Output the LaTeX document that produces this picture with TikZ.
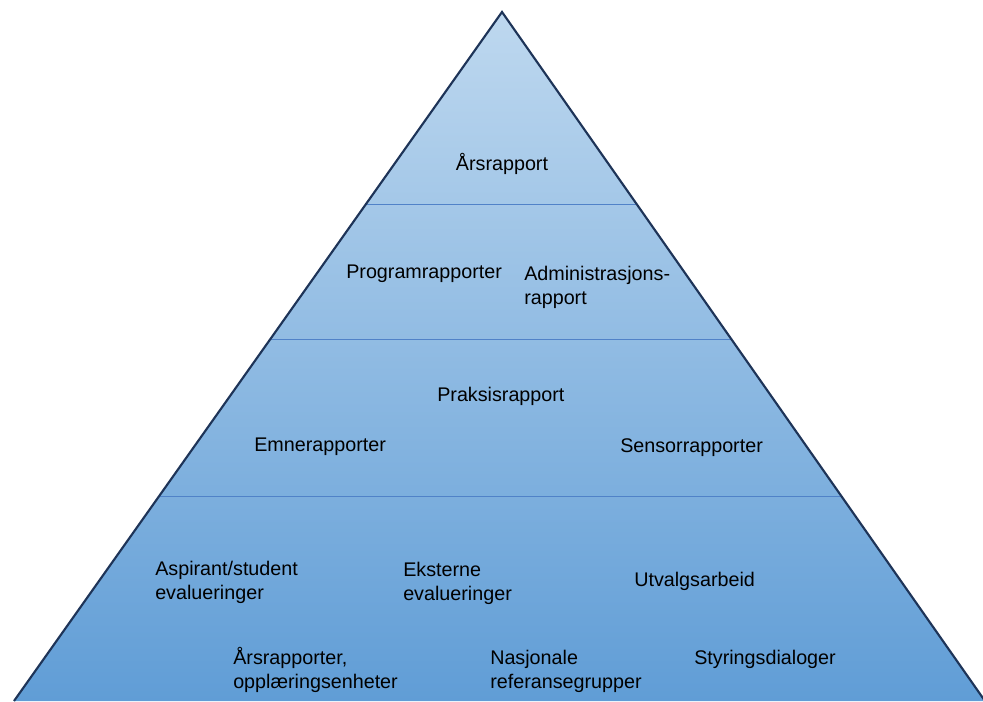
\documentclass[tikz,border=0pt]{standalone}
\usepackage{fontspec}
\setmainfont{Liberation Sans}
\usetikzlibrary{calc}
\definecolor{pyrtop}{RGB}{190,216,239}
\definecolor{pyrbot}{RGB}{96,157,214}
\definecolor{pyredge}{RGB}{30,52,88}
\definecolor{pyrline}{RGB}{80,130,200}
\tikzset{
	lbl/.style={font=\fontsize{14.8}{18}\selectfont, anchor=west, align=left, inner sep=0pt},
	divider/.style={pyrline, line width=0.7pt}
}
\begin{document}
\begin{tikzpicture}[x=0.75pt, y=-0.75pt]
	\useasboundingbox (0, 0) rectangle (983, 701);
	\clip (0, 0) rectangle (983, 701);
	%頂点
	\path (502, 12) coordinate (A);
	\path (14, 701) coordinate (L);
	\path (985, 701) coordinate (R);
	%面
	\shade[top color=pyrtop, bottom color=pyrbot] (A)--(L)--(R)--cycle;
	%区切り
	\draw[divider] ($(A)!0.2787!(L)$)--($(A)!0.2787!(R)$);
	\draw[divider] ($(A)!0.4746!(L)$)--($(A)!0.4746!(R)$);
	\draw[divider] ($(A)!0.7025!(L)$)--($(A)!0.7025!(R)$);
	%辺
	\draw[pyredge, line width=1.6pt, line join=miter] (L)--(A)--(R);
	%1段目
	\node[lbl, anchor=center] (aars) at (502, 164) {Årsrapport};
	%2段目
	\node[lbl] (prog) at (346, 274) {Programrapporter};
	\node[lbl] (admin) at (524, 287) {Administrasjons-\\rapport};
	%3段目
	\node[lbl] (praksis) at (437, 396) {Praksisrapport};
	\node[lbl] (emne) at (254, 447) {Emnerapporter};
	\node[lbl] (sensor) at (620, 448) {Sensorrapporter};
	%4段目
	\node[lbl] (aspirant) at (155, 582) {Aspirant/student\\evalueringer};
	\node[lbl] (eksterne) at (403, 583) {Eksterne\\evalueringer};
	\node[lbl] (utvalg) at (634, 581) {Utvalgsarbeid};
	\node[lbl] (aarsenh) at (233, 670) {Årsrapporter,\\opplæringsenheter};
	\node[lbl] (nasjonale) at (490, 671) {Nasjonale\\referansegrupper};
	\node[lbl] (styring) at (694, 659) {Styringsdialoger};
\end{tikzpicture}
\end{document}
